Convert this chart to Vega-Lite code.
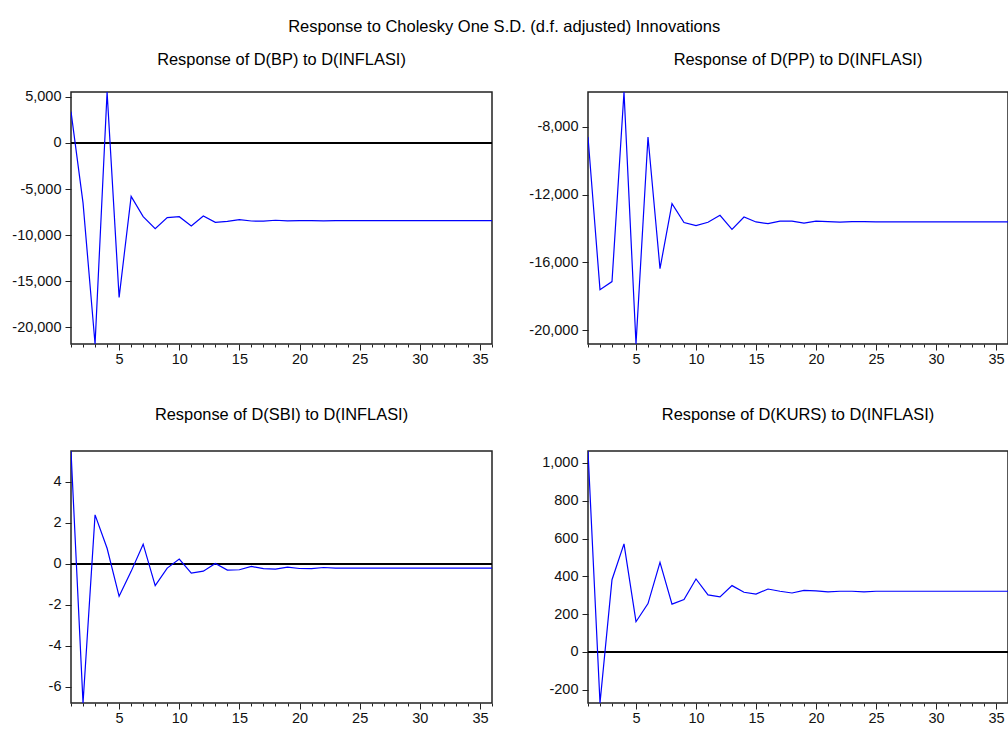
{
  "$schema": "https://vega.github.io/schema/vega-lite/v6.json",
  "padding": {"top": 19, "left": 11, "right": 0, "bottom": 0},
  "background": "white",
  "title": {"text": "Response to Cholesky One S.D. (d.f. adjusted) Innovations", "font": "Liberation Sans", "fontSize": 16.5, "fontWeight": "normal", "color": "black", "anchor": "middle", "frame": "bounds", "offset": 15, "dx": -6},
  "config": {
    "view": {"stroke": "#222", "strokeWidth": 1.5},
    "axis": {"labelFont": "Liberation Sans", "labelFontSize": 14.5, "labelColor": "#111", "domain": false, "grid": false, "tickColor": "#222", "tickSize": 6, "title": null, "labelPadding": 4},
    "axisX": {"labelPadding": 2},
    "line": {"color": "#0000FF", "strokeWidth": 1.2}
  },
  "datasets": {
    "bp": [
      {"h":1,"v":3400},{"h":2,"v":-6500},{"h":3,"v":-21800},{"h":4,"v":5530},{"h":5,"v":-16740},{"h":6,"v":-5790},{"h":7,"v":-7990},{"h":8,"v":-9290},{"h":9,"v":-8100},{"h":10,"v":-7990},{"h":11,"v":-9000},{"h":12,"v":-7920},{"h":13,"v":-8600},{"h":14,"v":-8500},{"h":15,"v":-8320},{"h":16,"v":-8460},{"h":17,"v":-8480},{"h":18,"v":-8380},{"h":19,"v":-8450},{"h":20,"v":-8430},{"h":21,"v":-8420},{"h":22,"v":-8440},{"h":23,"v":-8430},{"h":24,"v":-8430},{"h":25,"v":-8430},{"h":26,"v":-8430},{"h":27,"v":-8430},{"h":28,"v":-8430},{"h":29,"v":-8430},{"h":30,"v":-8430},{"h":31,"v":-8430},{"h":32,"v":-8430},{"h":33,"v":-8430},{"h":34,"v":-8430},{"h":35,"v":-8430},{"h":36,"v":-8430}
    ],
    "pp": [
      {"h":1,"v":-8590},{"h":2,"v":-17615},{"h":3,"v":-17140},{"h":4,"v":-5935},{"h":5,"v":-20826},{"h":6,"v":-8590},{"h":7,"v":-16370},{"h":8,"v":-12530},{"h":9,"v":-13650},{"h":10,"v":-13830},{"h":11,"v":-13630},{"h":12,"v":-13220},{"h":13,"v":-14050},{"h":14,"v":-13320},{"h":15,"v":-13615},{"h":16,"v":-13710},{"h":17,"v":-13560},{"h":18,"v":-13560},{"h":19,"v":-13680},{"h":20,"v":-13560},{"h":21,"v":-13600},{"h":22,"v":-13630},{"h":23,"v":-13600},{"h":24,"v":-13600},{"h":25,"v":-13615},{"h":26,"v":-13615},{"h":27,"v":-13615},{"h":28,"v":-13615},{"h":29,"v":-13615},{"h":30,"v":-13615},{"h":31,"v":-13615},{"h":32,"v":-13615},{"h":33,"v":-13615},{"h":34,"v":-13615},{"h":35,"v":-13615},{"h":36,"v":-13615}
    ],
    "sbi": [
      {"h":1,"v":5.51},{"h":2,"v":-6.8},{"h":3,"v":2.39},{"h":4,"v":0.76},{"h":5,"v":-1.59},{"h":6,"v":-0.37},{"h":7,"v":0.96},{"h":8,"v":-1.07},{"h":9,"v":-0.21},{"h":10,"v":0.23},{"h":11,"v":-0.46},{"h":12,"v":-0.36},{"h":13,"v":0.02},{"h":14,"v":-0.31},{"h":15,"v":-0.29},{"h":16,"v":-0.13},{"h":17,"v":-0.24},{"h":18,"v":-0.26},{"h":19,"v":-0.16},{"h":20,"v":-0.23},{"h":21,"v":-0.24},{"h":22,"v":-0.18},{"h":23,"v":-0.21},{"h":24,"v":-0.21},{"h":25,"v":-0.21},{"h":26,"v":-0.21},{"h":27,"v":-0.21},{"h":28,"v":-0.21},{"h":29,"v":-0.21},{"h":30,"v":-0.21},{"h":31,"v":-0.21},{"h":32,"v":-0.21},{"h":33,"v":-0.21},{"h":34,"v":-0.21},{"h":35,"v":-0.21},{"h":36,"v":-0.21}
    ],
    "kurs": [
      {"h":1,"v":1063},{"h":2,"v":-270},{"h":3,"v":382},{"h":4,"v":572},{"h":5,"v":160},{"h":6,"v":256},{"h":7,"v":474},{"h":8,"v":253},{"h":9,"v":277},{"h":10,"v":386},{"h":11,"v":302},{"h":12,"v":291},{"h":13,"v":351},{"h":14,"v":316},{"h":15,"v":306},{"h":16,"v":333},{"h":17,"v":321},{"h":18,"v":312},{"h":19,"v":326},{"h":20,"v":323},{"h":21,"v":318},{"h":22,"v":321},{"h":23,"v":321},{"h":24,"v":318},{"h":25,"v":321},{"h":26,"v":321},{"h":27,"v":321},{"h":28,"v":321},{"h":29,"v":321},{"h":30,"v":321},{"h":31,"v":321},{"h":32,"v":321},{"h":33,"v":321},{"h":34,"v":321},{"h":35,"v":321},{"h":36,"v":321}
    ]
  },
  "columns": 2,
  "bounds": "flush",
  "spacing": {"row": 107, "column": 96},
  "concat": [
    {
      "title": {"text": "Response of D(BP) to D(INFLASI)", "font": "Liberation Sans", "fontSize": 16.4, "fontWeight": "normal", "color": "black", "offset": 20, "frame": "group", "anchor": "middle"},
      "width": 421, "height": 252,
      "data": {"name": "bp"},
      "layer": [
        {"mark": {"type": "rule", "color": "black", "strokeWidth": 0.8}, "encoding": {"y": {"datum": 0, "type": "quantitative"}}},
        {"mark": {"type": "line", "clip": true},
         "encoding": {
          "x": {"field": "h", "type": "quantitative", "scale": {"domain": [1, 36], "nice": false, "zero": false},
                "axis": {"values": [1,2,3,4,5,6,7,8,9,10,11,12,13,14,15,16,17,18,19,20,21,22,23,24,25,26,27,28,29,30,31,32,33,34,35,36], "labelExpr": "datum.value % 5 == 0 ? datum.value : ''", "tickSize": {"condition": {"test": "datum.value % 5 == 0", "value": 6}, "value": 3}}},
          "y": {"field": "v", "type": "quantitative", "scale": {"domain": [-21800, 5530], "nice": false, "zero": false},
                "axis": {"values": [5000, 0, -5000, -10000, -15000, -20000], "labelExpr": "(datum.value < 0 ? '-' : '') + format(abs(datum.value), ',')"}}
         }}
      ]
    },
    {
      "title": {"text": "Response of D(PP) to D(INFLASI)", "font": "Liberation Sans", "fontSize": 16.4, "fontWeight": "normal", "color": "black", "offset": 24, "frame": "group", "anchor": "middle"},
      "width": 420, "height": 252,
      "data": {"name": "pp"},
      "layer": [
        {"mark": {"type": "line", "clip": true},
         "encoding": {
          "x": {"field": "h", "type": "quantitative", "scale": {"domain": [1, 36], "nice": false, "zero": false},
                "axis": {"values": [1,2,3,4,5,6,7,8,9,10,11,12,13,14,15,16,17,18,19,20,21,22,23,24,25,26,27,28,29,30,31,32,33,34,35,36], "labelExpr": "datum.value % 5 == 0 ? datum.value : ''", "tickSize": {"condition": {"test": "datum.value % 5 == 0", "value": 6}, "value": 3}}},
          "y": {"field": "v", "type": "quantitative", "scale": {"domain": [-20826, -5935], "nice": false, "zero": false},
                "axis": {"values": [-8000, -12000, -16000, -20000], "labelExpr": "(datum.value < 0 ? '-' : '') + format(abs(datum.value), ',')"}}
         }}
      ]
    },
    {
      "title": {"text": "Response of D(SBI) to D(INFLASI)", "font": "Liberation Sans", "fontSize": 16.4, "fontWeight": "normal", "color": "black", "offset": 28, "frame": "group", "anchor": "middle"},
      "width": 421, "height": 252,
      "data": {"name": "sbi"},
      "layer": [
        {"mark": {"type": "rule", "color": "black", "strokeWidth": 0.8}, "encoding": {"y": {"datum": 0, "type": "quantitative"}}},
        {"mark": {"type": "line", "clip": true},
         "encoding": {
          "x": {"field": "h", "type": "quantitative", "scale": {"domain": [1, 36], "nice": false, "zero": false},
                "axis": {"values": [1,2,3,4,5,6,7,8,9,10,11,12,13,14,15,16,17,18,19,20,21,22,23,24,25,26,27,28,29,30,31,32,33,34,35,36], "labelExpr": "datum.value % 5 == 0 ? datum.value : ''", "tickSize": {"condition": {"test": "datum.value % 5 == 0", "value": 6}, "value": 3}}},
          "y": {"field": "v", "type": "quantitative", "scale": {"domain": [-6.8, 5.51], "nice": false, "zero": false},
                "axis": {"values": [4, 2, 0, -2, -4, -6], "labelExpr": "(datum.value < 0 ? '-' : '') + format(abs(datum.value), ',')"}}
         }}
      ]
    },
    {
      "title": {"text": "Response of D(KURS) to D(INFLASI)", "font": "Liberation Sans", "fontSize": 16.4, "fontWeight": "normal", "color": "black", "offset": 28, "frame": "group", "anchor": "middle"},
      "width": 420, "height": 252,
      "data": {"name": "kurs"},
      "layer": [
        {"mark": {"type": "rule", "color": "black", "strokeWidth": 0.8}, "encoding": {"y": {"datum": 0, "type": "quantitative"}}},
        {"mark": {"type": "line", "clip": true},
         "encoding": {
          "x": {"field": "h", "type": "quantitative", "scale": {"domain": [1, 36], "nice": false, "zero": false},
                "axis": {"values": [1,2,3,4,5,6,7,8,9,10,11,12,13,14,15,16,17,18,19,20,21,22,23,24,25,26,27,28,29,30,31,32,33,34,35,36], "labelExpr": "datum.value % 5 == 0 ? datum.value : ''", "tickSize": {"condition": {"test": "datum.value % 5 == 0", "value": 6}, "value": 3}}},
          "y": {"field": "v", "type": "quantitative", "scale": {"domain": [-270, 1063], "nice": false, "zero": false},
                "axis": {"values": [1000, 800, 600, 400, 200, 0, -200], "labelExpr": "(datum.value < 0 ? '-' : '') + format(abs(datum.value), ',')"}}
         }}
      ]
    }
  ]
}
